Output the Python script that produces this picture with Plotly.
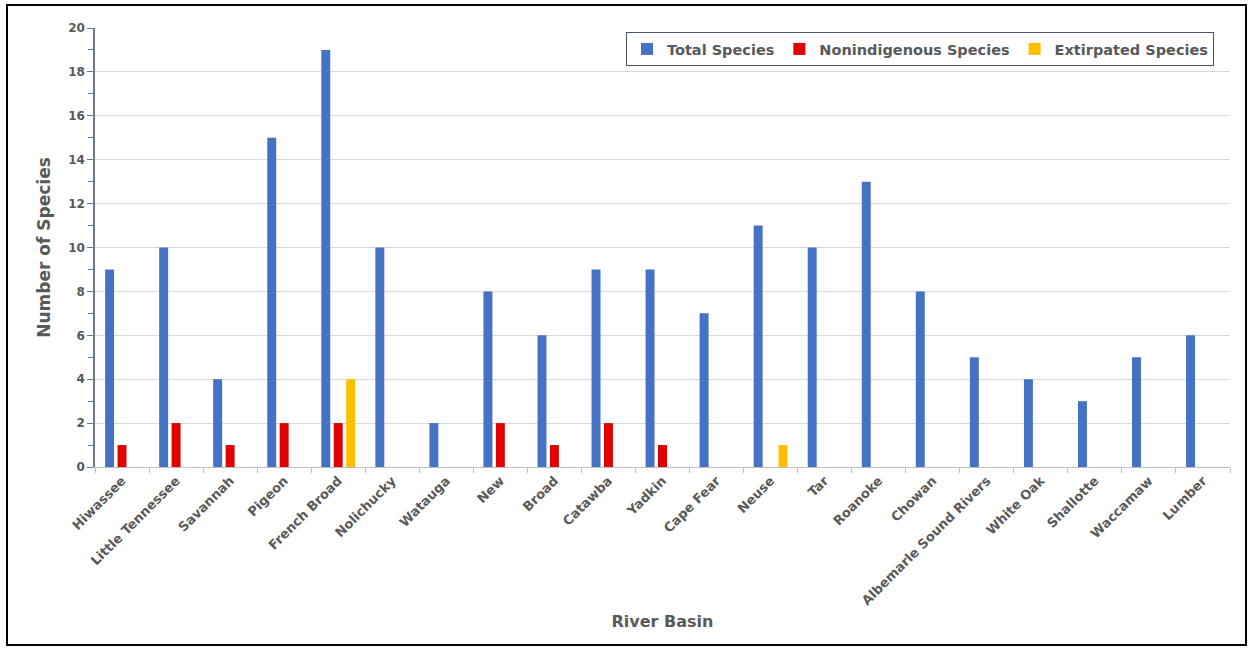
import plotly.graph_objects as go

basins = ["Hiwassee", "Little Tennessee", "Savannah", "Pigeon", "French Broad",
          "Nolichucky", "Watauga", "New", "Broad", "Catawba", "Yadkin",
          "Cape Fear", "Neuse", "Tar", "Roanoke", "Chowan",
          "Albemarle Sound Rivers", "White Oak", "Shallotte", "Waccamaw", "Lumber"]
total_species = [9, 10, 4, 15, 19, 10, 2, 8, 6, 9, 9, 7, 11, 10, 13, 8, 5, 4, 3, 5, 6]
nonindigenous_species = [1, 2, 1, 2, 2, 0, 0, 2, 1, 2, 1, 0, 0, 0, 0, 0, 0, 0, 0, 0, 0]
extirpated_species = [0, 0, 0, 0, 4, 0, 0, 0, 0, 0, 0, 0, 1, 0, 0, 0, 0, 0, 0, 0, 0]
y_ticks = [0, 2, 4, 6, 8, 10, 12, 14, 16, 18, 20]

FONT = "DejaVu Sans, Liberation Sans, Arial, sans-serif"
GREY = "#595959"

fig = go.Figure()
fig.add_trace(go.Bar(x=basins, y=total_species, name="<b>Total Species</b>",
                     marker=dict(color="#4472C4", line=dict(width=0))))
fig.add_trace(go.Bar(x=basins, y=nonindigenous_species, name="<b>Nonindigenous Species</b>",
                     marker=dict(color="#E00000", line=dict(width=0))))
fig.add_trace(go.Bar(x=basins, y=extirpated_species, name="<b>Extirpated Species</b>",
                     marker=dict(color="#FFC000", line=dict(width=0))))

W, H = 1253, 650
L, R, T, B = 95, 23, 28, 183
pw, ph = W - L - R, H - T - B

def px_x(p):
    return (p - L) / pw

def px_y(p):
    return (H - B - p) / ph

fig.update_layout(
    width=W, height=H,
    margin=dict(l=L, r=R, t=T, b=B, autoexpand=False),
    paper_bgcolor="white", plot_bgcolor="white",
    barmode="group", bargap=0.31, bargroupgap=0.28,
    font=dict(family=FONT, color=GREY, size=12),
    showlegend=True,
    legend=dict(orientation="h", x=px_x(626), y=px_y(32), xanchor="left", yanchor="top",
                bgcolor="white", bordercolor="#44546A", borderwidth=1,
                font=dict(family=FONT, size=14.5, color=GREY),
                itemwidth=30, traceorder="normal"),
    xaxis=dict(
        title=dict(text="<b>River Basin</b>", font=dict(size=16, color=GREY), standoff=8),
        tickangle=-45, tickfont=dict(size=13, color=GREY, family=FONT),
        showline=True, linecolor="#BFBFBF", linewidth=1,
        ticks="outside", ticklen=5, tickcolor="#BFBFBF", tickson="boundaries",
        showgrid=False, automargin=False,
    ),
    yaxis=dict(
        title=dict(text="<b>Number of Species</b>", font=dict(size=17, color=GREY), standoff=13),
        range=[0, 20], tickvals=y_ticks, ticktext=[f"<b>{v}</b>" for v in y_ticks],
        tickfont=dict(size=12, color=GREY, family=FONT),
        showline=True, linecolor="#6B7B8A", linewidth=1.5,
        ticks="outside", ticklen=6, tickcolor="#6B7B8A",
        minor=dict(dtick=1, tick0=0, ticks="outside", ticklen=5, tickcolor="#6B7B8A", showgrid=False),
        showgrid=True, gridcolor="#D9D9D9", gridwidth=1,
        zeroline=False, automargin=False,
    ),
    shapes=[dict(type="rect", xref="paper", yref="paper",
                 x0=px_x(7), x1=px_x(1246), y0=px_y(645), y1=px_y(5),
                 line=dict(color="black", width=2), fillcolor="rgba(0,0,0,0)", layer="below")],
)

fig.update_xaxes(ticktext=[f"<b>{b}</b>" for b in basins], tickvals=basins)

fig.write_html("out.html")
